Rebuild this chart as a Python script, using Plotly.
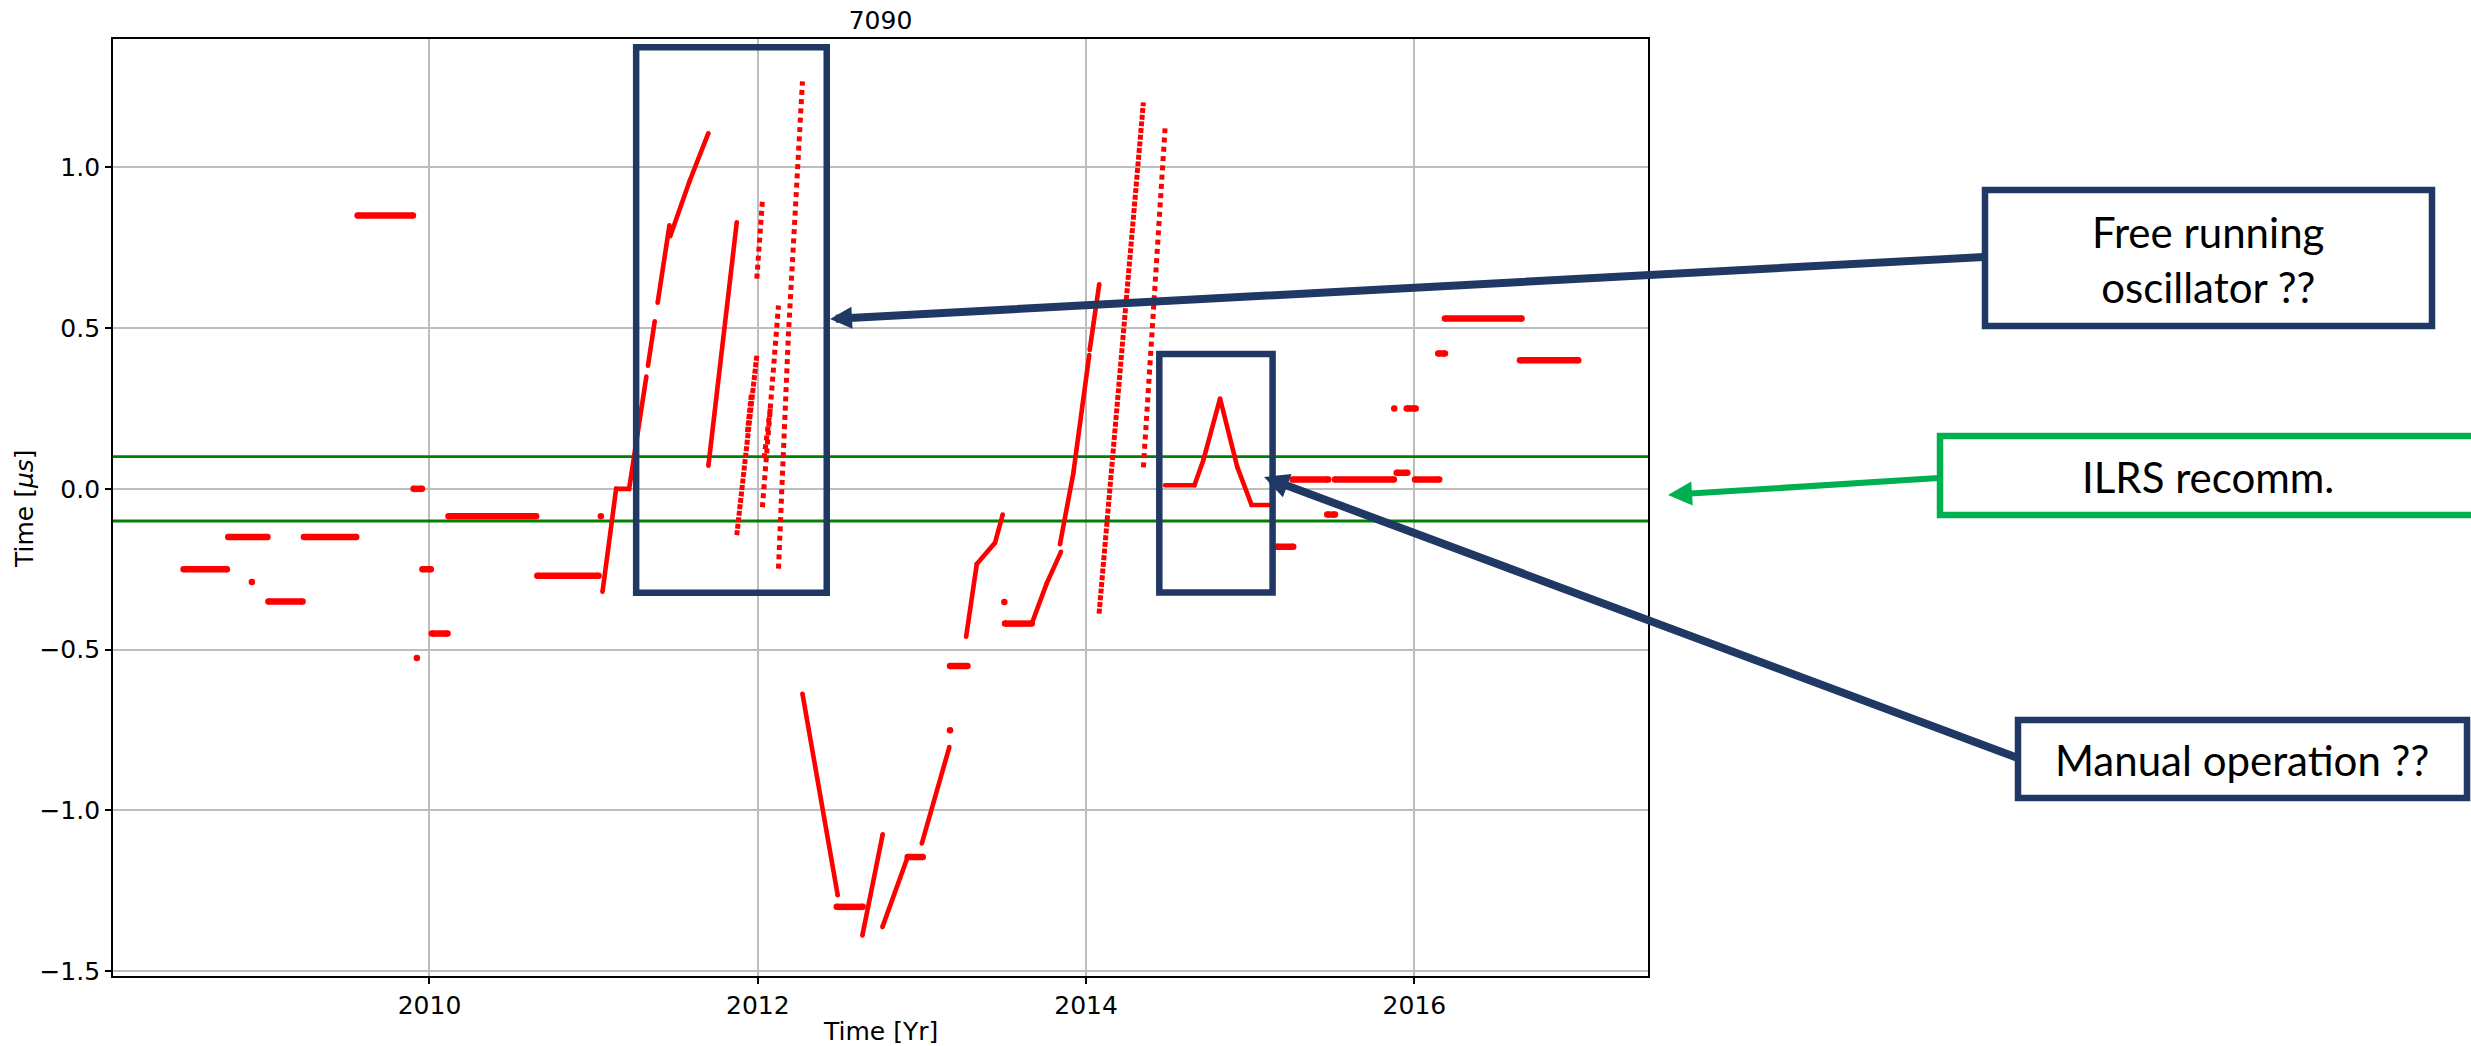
import plotly.graph_objects as go

# ---------------------------------------------------------------------------
# Station 7090 - time bias history (microseconds) vs. epoch (decimal year)
# ---------------------------------------------------------------------------

# Stretches where the bias stayed constant: start year, end year, offset [us]
flat_start = [2008.502, 2008.774, 2009.019, 2009.235, 2009.562, 2009.903, 2009.957, 2010.014,
              2010.116, 2010.657, 2012.481, 2012.913, 2013.171, 2013.506, 2015.161, 2015.258,
              2015.469, 2015.516, 2015.892, 2016.004, 2015.953, 2016.145, 2016.186, 2016.643]
flat_end = [2008.766, 2009.013, 2009.227, 2009.554, 2009.899, 2009.954, 2010.008, 2010.110,
            2010.650, 2011.030, 2012.639, 2013.005, 2013.277, 2013.669, 2015.262, 2015.475,
            2015.516, 2015.875, 2015.957, 2016.151, 2016.008, 2016.186, 2016.653, 2016.998]
flat_offset = [-0.25, -0.15, -0.35, -0.15, 0.85, 0.0, -0.25, -0.45,
               -0.085, -0.27, -1.30, -1.145, -0.551, -0.419, -0.18, 0.029,
               -0.08, 0.029, 0.05, 0.029, 0.25, 0.421, 0.53, 0.40]

# Drifting, densely sampled runs (vertices of each run)
drift_years = [
    [2011.054, 2011.137, 2011.216, 2011.321],
    [2011.331, 2011.372],
    [2011.390, 2011.462, 2011.467, 2011.583, 2011.699],
    [2011.699, 2011.872],
    [2012.272, 2012.487],
    [2012.637, 2012.761],
    [2012.759, 2012.913],
    [2012.999, 2013.167],
    [2013.269, 2013.334, 2013.445, 2013.492],
    [2013.669, 2013.760, 2013.847],
    [2013.841, 2013.922, 2014.019],
    [2014.022, 2014.080],
    [2014.481, 2014.660, 2014.714, 2014.816, 2014.921, 2015.008, 2015.110],
]
drift_offsets = [
    [-0.320, 0.0, 0.0, 0.349],
    [0.383, 0.521],
    [0.579, 0.820, 0.786, 0.955, 1.106],
    [0.072, 0.829],
    [-0.637, -1.264],
    [-1.389, -1.074],
    [-1.363, -1.145],
    [-1.103, -0.803],
    [-0.460, -0.234, -0.168, -0.080],
    [-0.419, -0.294, -0.196],
    [-0.172, 0.048, 0.416],
    [0.432, 0.636],
    [0.011, 0.011, 0.089, 0.281, 0.068, -0.050, -0.050],
]

# Free-running epochs, sampled pass by pass
free_run_years = [
    [2011.872, 2011.994],
    [2011.937, 2011.961],
    [2011.994, 2012.028],
    [2012.028, 2012.126],
    [2012.038, 2012.079],
    [2012.126, 2012.186, 2012.272],
    [2014.079, 2014.349],
    [2014.349, 2014.481],
]
free_run_offsets = [
    [-0.144, 0.415],
    [0.176, 0.297],
    [0.654, 0.895],
    [-0.057, 0.570],
    [0.095, 0.262],
    [-0.248, 0.475, 1.267],
    [-0.388, 1.202],
    [0.067, 1.121],
]

# Isolated single passes
single_years = [2008.918, 2009.923, 2011.044, 2013.171, 2013.502, 2015.877]
single_offsets = [-0.29, -0.526, -0.085, -0.751, -0.352, 0.25]

# ILRS recommended time-bias limits [us]
ilrs_limits = [-0.1, 0.1]

# Regions highlighted in the plot (year range, offset range)
free_run_region = [2011.259, 2012.420, -0.323, 1.373]
manual_region = [2014.446, 2015.136, -0.322, 0.419]

# ---------------------------------------------------------------------------
# Styling / layout
# ---------------------------------------------------------------------------
W, H = 2471, 1046
PL, PR, PT, PB = 113, 1648, 39, 976          # plot area in page pixels
X_RANGE = [2008.072, 2017.423]
Y_RANGE = [-1.515, 1.399]

RED = "#ff0000"
NAVY = "#203864"
CALLOUT_GREEN = "#00b050"
AXIS_FONT = dict(family="DejaVu Sans, sans-serif", size=25, color="black")
CALLOUT_FONT = dict(family="Lato, Open Sans, sans-serif", size=42, color="black")

# dash pattern per free-running run (dense vs. sparse pass sampling)
DENSE, SPARSE = "5px,1.5px", "5px,4px"
free_run_dash = [DENSE, DENSE, SPARSE, SPARSE, SPARSE, "5px,4.3px", "5px,1.7px", "5px,4.3px"]


def to_paper(px, py):
    return (px - PL) / (PR - PL), (PB - py) / (PB - PT)


def joined(runs):
    out = []
    for r in runs:
        out.extend(r)
        out.append(None)
    return out


fig = go.Figure()

# ILRS limits
for lim in ilrs_limits:
    fig.add_trace(go.Scatter(x=X_RANGE, y=[lim, lim], mode="lines",
                             line=dict(color="#008000", width=2.8),
                             hoverinfo="skip", showlegend=False))

# constant-offset stretches
fx, fy = [], []
for s, e, v in zip(flat_start, flat_end, flat_offset):
    fx += [s, e, None]
    fy += [v, v, None]
fig.add_trace(go.Scatter(x=fx, y=fy, mode="lines+markers",
                         line=dict(color=RED, width=6.5),
                         marker=dict(color=RED, size=6.5),
                         showlegend=False))

# drifting runs
fig.add_trace(go.Scatter(x=joined(drift_years), y=joined(drift_offsets),
                         mode="lines+markers",
                         line=dict(color=RED, width=4.6),
                         marker=dict(color=RED, size=4.6),
                         showlegend=False))

# free-running runs
for xs, ys, dash in zip(free_run_years, free_run_offsets, free_run_dash):
    fig.add_trace(go.Scatter(x=xs, y=ys, mode="lines",
                             line=dict(color=RED, width=5, dash=dash),
                             showlegend=False))

# single passes
fig.add_trace(go.Scatter(x=single_years, y=single_offsets, mode="markers",
                         marker=dict(color=RED, size=6.5), showlegend=False))

shapes = []
# highlighted regions
for x0, x1, y0, y1 in (free_run_region, manual_region):
    shapes.append(dict(type="rect", xref="x", yref="y", x0=x0, x1=x1, y0=y0, y1=y1,
                       line=dict(color=NAVY, width=6.5), layer="above"))

# callout boxes (page pixels)
callouts = [
    dict(box=(1985, 190, 2432, 326), text="Free running<br>oscillator ??", center=(2208, 259),
         color=NAVY, width=6.5),
    dict(box=(1940, 436, 2520, 515), text="ILRS recomm.", center=(2208, 477),
         color=CALLOUT_GREEN, width=6.5),
    dict(box=(2018, 720, 2467, 798), text="Manual operation ??", center=(2242, 760),
         color=NAVY, width=6.5),
]
annotations = []
for c in callouts:
    bx0, by0, bx1, by1 = c["box"]
    x0, y0 = to_paper(bx0, by1)
    x1, y1 = to_paper(bx1, by0)
    shapes.append(dict(type="rect", xref="paper", yref="paper", x0=x0, x1=x1, y0=y0, y1=y1,
                       line=dict(color=c["color"], width=c["width"]),
                       fillcolor="white", layer="above"))
    tx, ty = to_paper(*c["center"])
    annotations.append(dict(xref="paper", yref="paper", x=tx, y=ty, text=c["text"],
                            showarrow=False, font=CALLOUT_FONT, align="center",
                            xanchor="center", yanchor="middle"))

# arrows: tip and tail in page pixels
arrows = [
    dict(tip=(830, 319), tail=(1985, 257), color=NAVY, width=8, size=0.55),
    dict(tip=(1668, 495), tail=(1940, 478), color=CALLOUT_GREEN, width=6, size=0.8),
    dict(tip=(1264, 477), tail=(2018, 758), color=NAVY, width=8, size=0.62),
]
for a in arrows:
    tx, ty = to_paper(*a["tip"])
    annotations.append(dict(xref="paper", yref="paper", x=tx, y=ty, text="",
                            showarrow=True, arrowhead=2, arrowsize=a["size"],
                            arrowwidth=a["width"], arrowcolor=a["color"],
                            ax=a["tail"][0] - a["tip"][0], ay=a["tail"][1] - a["tip"][1],
                            standoff=0))

# axis titles
ax_x, ax_y = to_paper((PL + PR) / 2, 1031)
annotations.append(dict(xref="paper", yref="paper", x=ax_x, y=ax_y, text="Time [Yr]",
                        showarrow=False, font=AXIS_FONT, xanchor="center", yanchor="middle"))
ay_x, ay_y = to_paper(24, 509)
annotations.append(dict(xref="paper", yref="paper", x=ay_x, y=ay_y,
                        text="Time [<i>μs</i>]", textangle=-90,
                        showarrow=False, font=AXIS_FONT, xanchor="center", yanchor="middle"))

y_ticks = [-1.5, -1.0, -0.5, 0.0, 0.5, 1.0]
y_labels = [("−" if v < 0 else "") + f"{abs(v):.1f}" for v in y_ticks]
x_ticks = [2010, 2012, 2014, 2016]

fig.update_layout(
    width=W, height=H,
    margin=dict(l=PL, r=W - PR, t=PT, b=H - PB, pad=0),
    paper_bgcolor="white", plot_bgcolor="white",
    title=dict(text="7090", x=0.5, xref="paper", xanchor="center",
               y=1 - 20 / H, yref="container", yanchor="middle", font=AXIS_FONT),
    shapes=shapes, annotations=annotations,
    showlegend=False,
    xaxis=dict(range=X_RANGE, tickvals=x_ticks, ticktext=[str(v) for v in x_ticks],
               showgrid=True, gridcolor="#bdbdbd", gridwidth=1.5,
               showline=True, linecolor="black", linewidth=1.8, mirror=True,
               ticks="outside", ticklen=6, tickwidth=1.5, tickcolor="black",
               tickfont=AXIS_FONT, zeroline=False),
    yaxis=dict(range=Y_RANGE, tickvals=y_ticks, ticktext=y_labels,
               showgrid=True, gridcolor="#bdbdbd", gridwidth=1.5,
               showline=True, linecolor="black", linewidth=1.8, mirror=True,
               ticks="outside", ticklen=6, tickwidth=1.5, tickcolor="black",
               tickfont=AXIS_FONT, zeroline=False),
)

fig.write_html("out.html")
